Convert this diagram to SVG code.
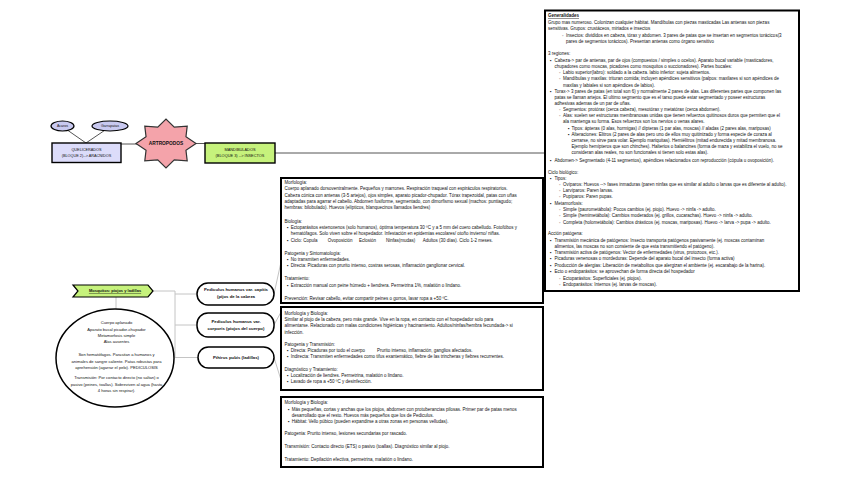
<svg xmlns="http://www.w3.org/2000/svg" width="848" height="477" viewBox="0 0 848 477">
<style>
.t{font-family:"Liberation Sans",Arial,sans-serif;font-size:4.5px;fill:#111}
.c{text-anchor:middle}
.b{font-weight:bold}
.u{text-decoration:underline}
.e{font-size:4.1px}
.n{font-size:4.3px;font-weight:bold}
.box{fill:#fff;stroke:#000;stroke-width:2}
.pill{fill:#fff;stroke:#000;stroke-width:1.5}
.gl{stroke:#c4c4c4;stroke-width:1;fill:none}
.dl{stroke:#555;stroke-width:1;fill:none}
</style>
<rect width="848" height="477" fill="#fff"/>
<g id="connectors">
<line class="dl" x1="68" y1="130.5" x2="86" y2="143"/>
<line class="dl" x1="104" y1="130.8" x2="86" y2="143"/>
<line class="dl" x1="121" y1="144" x2="137" y2="144"/>
<line class="dl" x1="196" y1="143.5" x2="205" y2="143.5"/>
<line class="dl" x1="275" y1="153" x2="545" y2="153"/>
<path class="gl" d="M153,291 H175 V294 H197 M175,294 V325 H197 M175,325 V357.5 H198"/>
<line class="gl" x1="116" y1="297" x2="116" y2="309"/>
<path class="gl" d="M274,294 L281,262"/>
<path class="gl" d="M274,325 L281,312"/>
<path class="gl" d="M274,357.5 L281,380"/>
</g>
<g id="acaros">
<ellipse cx="62.5" cy="126" rx="11.5" ry="5" fill="#c9c9f0" stroke="#000" stroke-width="1.2"/>
<text class="t c" x="62.5" y="127.3" style="font-size:3.6px">Acaros</text>
</g>
<g id="garrapatas">
<ellipse cx="110" cy="126" rx="18" ry="5" fill="#c9c9f0" stroke="#000" stroke-width="1.2"/>
<text class="t c" x="110" y="127.3" style="font-size:3.6px">Garrapatas</text>
</g>
<g id="quelicerados">
<rect x="52" y="143" width="69" height="19.5" fill="#dcdcfa" stroke="#000" stroke-width="1.4"/>
<text class="t c" x="86.5" y="151.3" style="font-size:3.8px">QUELICERADOS</text>
<text class="t c" x="86.5" y="157" style="font-size:3.8px">(BLOQUE 2)--&gt; ARACNIDOS</text>
</g>
<g id="artropodos">
<polygon points="196,143.5 185.96,150.25 187.21,160.82 174.27,159.8 166,168 157.73,159.8 144.79,160.82 146.04,150.25 136,143.5 146.04,136.75 144.79,126.18 157.73,127.2 166,119 174.27,127.2 187.21,126.18 185.96,136.75" fill="#f4a3aa" stroke="#333" stroke-width="1.2"/>
<text class="t c b" x="166" y="145.2" style="font-size:4.8px">ARTROPODOS</text>
</g>
<g id="mandibulados">
<rect x="205" y="143" width="70" height="20" fill="#c6f27c" stroke="#000" stroke-width="1.4"/>
<text class="t c" x="240" y="151.3" style="font-size:3.9px">MANDIBULADOS</text>
<text class="t c" x="240" y="157.2" style="font-size:3.9px">(BLOQUE 3) --&gt; INSECTOS</text>
</g>
<g id="insectos">
<rect class="box" x="545" y="10.5" width="254" height="280.5"/>
<text class="t b u" x="548" y="17">Generalidades</text>
<text class="t" x="548" y="23.8">Grupo mas numeroso. Colonizan cualquier hábitat. Mandíbulas con piezas masticadas Las antenas son piezas</text>
<text class="t" x="548" y="30">sensitivas. Grupos: crustáceos, miriados e insectos</text>
<text class="t" x="562" y="36.6">◦</text><text class="t" x="566" y="36.6">Insectos: divididos en cabeza, tórax y abdomen. 3 pares de patas que se insertan en segmentos torácicos(3</text>
<text class="t" x="566" y="42.8">pares de segmentos torácicos). Presentan antenas como órgano sensitivo</text>
<text class="t" x="548" y="55.4">3 regiones:</text>
<text class="t" x="550" y="61.7">▪</text><text class="t" x="554.5" y="61.7">Cabeza-&gt; par de antenas, par de ojos (compuestos / simples o ocelos). Aparato bucal variable (masticadores,</text>
<text class="t" x="554.5" y="67.9">chupadores como moscas, picadores como mosquitos o succionadores). Partes bucales:</text>
<text class="t" x="559" y="74.1">◦</text><text class="t" x="563" y="74.1">Labio superior(labro): soldado a la cabeza. labio inferior: sujeta alimentos.</text>
<text class="t" x="559" y="80.3">◦</text><text class="t" x="563" y="80.3">Mandíbulas y maxilas: trituran comida; incluyen apéndices sensitivos (palpos: maxilares si son apéndices de</text>
<text class="t" x="563" y="86.5">maxilas y labiales si son apéndices de labios).</text>
<text class="t" x="550" y="92.5">▪</text><text class="t" x="554.5" y="92.5">Torax-&gt; 3 pares de patas (en total son 6) y normalmente 2 pares de alas. Las diferentes partes que componen las</text>
<text class="t" x="554.5" y="98.7">patas se llaman artejos. El ultimo segmento que es el tarso puede estar segmentado y poseer estructuras</text>
<text class="t" x="554.5" y="104.8">adhesivas ademas de un par de uñas.</text>
<text class="t" x="559" y="111">◦</text><text class="t" x="563" y="111">Segmentos: protórax (cerca cabeza), mesotórax y metatórax (cerca abdomen).</text>
<text class="t" x="559" y="117.2">◦</text><text class="t" x="563" y="117.2">Alas: suelen ser estructuras membranosas unidas que tienen refuerzos quitinosos duros que permiten que el</text>
<text class="t" x="563" y="123.4">ala mantenga su forma. Esos refuerzos son los nervios o venas alares.</text>
<text class="t" x="568" y="129.6">▪</text><text class="t" x="571.5" y="129.6">Tipos: ápteras (0 alas, hormigas) // dípteras (1 par alas, moscas) // aladas (2 pares alas, mariposas)</text>
<text class="t" x="568" y="135.8">▪</text><text class="t" x="571.5" y="135.8">Alteraciones: Elitros (2 pares de alas pero uno de ellos muy quitinizado y forma especie de coraza al</text>
<text class="t" x="571.5" y="142">cerrarse, no sirve para volar. Ejemplo mariquitas). Hemiélitros (mitad endurecida y mitad membranosa.</text>
<text class="t" x="571.5" y="148.2">Ejemplo hemípteros que son chinches). Halterios o balancines (forma de maza y estabiliza el vuelo, no se</text>
<text class="t" x="571.5" y="154.4">consideran alas reales, no son funcionales si tienen solo estas alas).</text>
<text class="t" x="550" y="162">▪</text><text class="t" x="554.5" y="162">Abdomen-&gt; Segmentado (4-11 segmentos), apéndices relacionados con reproducción (cópula u ovoposición).</text>
<text class="t" x="548" y="173.5">Ciclo biológico:</text>
<text class="t" x="550" y="179.6">▪</text><text class="t" x="554.5" y="179.6">Tipos:</text>
<text class="t" x="559" y="185.8">◦</text><text class="t" x="563" y="185.8">Ovíparos: Huevos --&gt; fases inmaduras (paren ninfas que es similar al adulto o larvas que es diferente al adulto).</text>
<text class="t" x="559" y="192">◦</text><text class="t" x="563" y="192">Larvíparos: Paren larvas.</text>
<text class="t" x="559" y="198.4">◦</text><text class="t" x="563" y="198.4">Pupíparos: Paren pupas.</text>
<text class="t" x="550" y="204.5">▪</text><text class="t" x="554.5" y="204.5">Metamorfosis:</text>
<text class="t" x="559" y="210.8">◦</text><text class="t" x="563" y="210.8">Simple (paurometábola): Pocos cambios (ej. piojo). Huevo -&gt; ninfa -&gt; adulto.</text>
<text class="t" x="559" y="217.2">◦</text><text class="t" x="563" y="217.2">Simple (hemimetábola): Cambios moderados (ej. grillos, cucarachas). Huevo -&gt; ninfa -&gt; adulto.</text>
<text class="t" x="559" y="223.6">◦</text><text class="t" x="563" y="223.6">Completa (holometábola): Cambios drásticos (ej. moscas, mariposas). Huevo -&gt; larva -&gt; pupa -&gt; adulto.</text>
<text class="t" x="548" y="235">Acción patógena:</text>
<text class="t" x="550" y="241.5">▪</text><text class="t" x="554.5" y="241.5">Transmisión mecánica de patógenos: Insecto transporta patógenos pasivamente (ej. moscas contaminan</text>
<text class="t" x="554.5" y="247.7">alimentos, las moscas no son consiente de que esta transmitiendo el patógeno).</text>
<text class="t" x="550" y="254">▪</text><text class="t" x="554.5" y="254">Transmisión activa de patógenos: Vector de enfermedades (virus, protozoos, etc.).</text>
<text class="t" x="550" y="260.4">▪</text><text class="t" x="554.5" y="260.4">Picaduras venenosas o mordeduras: Depende del aparato bucal del insecto (forma activa)</text>
<text class="t" x="550" y="266.9">▪</text><text class="t" x="554.5" y="266.9">Producción de alergias: Liberación de metabolitos que alergizan el ambiente (ej. escarabajo de la harina).</text>
<text class="t" x="550" y="273.3">▪</text><text class="t" x="554.5" y="273.3">Ecto o endoparásitos: se aprovechan de forma directa del hospedador</text>
<text class="t" x="559" y="279.6">◦</text><text class="t" x="563" y="279.6">Ectoparásitos: Superficiales (ej. piojos).</text>
<text class="t" x="559" y="285.9">◦</text><text class="t" x="563" y="285.9">Endoparásitos: Internos (ej. larvas de moscas).</text>
</g>
<g id="capitis-info">
<rect class="box" x="281" y="178" width="262" height="125"/>
<text class="t" x="284.5" y="184.2">Morfología:</text>
<text class="t" x="284.5" y="190.4">Cuerpo aplanado dorsoventralmente. Pequeños y marrones. Respiración traqueal con espiráculos respiratorios.</text>
<text class="t" x="284.5" y="196.6">Cabeza cónica con antenas (3-5 artejos), ojos simples, aparato picador-chupador. Tórax trapezoidal, patas con uñas</text>
<text class="t" x="284.5" y="202.8">adaptadas para agarrar el cabello. Abdomen fusiforme, segmentado, con dimorfismo sexual (machos: puntiagudo;</text>
<text class="t" x="284.5" y="209">hembras: bilobulado). Huevos (elípticos, blanquecinos llamados liendres)</text>
<text class="t" x="284.5" y="222.6">Biología:</text>
<text class="t" x="287" y="228.9">▪</text><text class="t" x="290.7" y="228.9">Ectoparásitos estenoxenos (solo humanos), óptima temperatura 30 ºC y a 5 mm del cuero cabelludo. Fotofóbos y</text>
<text class="t" x="290.7" y="235.2">hematófagos. Solo viven sobre el hospedador. Infestación en epidemias escolares/ otoño invierno/ niñas.</text>
<text class="t" x="287" y="241.6">▪</text><text class="t" y="241.6"><tspan x="290.7">Ciclo: Copula</tspan><tspan x="327.7">Ovoposición</tspan><tspan x="359">Eclosión</tspan><tspan x="386">Ninfas(mudas)</tspan><tspan x="422.7">Adultos (30 días). Ciclo 1-2 meses.</tspan></text>
<text class="t" x="284.5" y="254.6">Patogenia y Sintomatología:</text>
<text class="t" x="287" y="260.9">▪</text><text class="t" x="290.7" y="260.9">No transmiten enfermedades.</text>
<text class="t" x="287" y="267.2">▪</text><text class="t" x="290.7" y="267.2">Directa: Picaduras con prurito intenso, costras serosas, inflamación ganglionar cervical.</text>
<text class="t" x="284.5" y="280.2">Tratamiento:</text>
<text class="t" x="287" y="286.6">▪</text><text class="t" x="290.7" y="286.6">Extracción manual con peine húmedo + liendrera. Permetrina 1%, malatión o lindano.</text>
<text class="t" x="284.5" y="299.6">Prevención: Revisar cabello, evitar compartir peines o gorros, lavar ropa a +50 ºC.</text>
</g>
<g id="corporis-info">
<rect class="box" x="281" y="307" width="262" height="83"/>
<text class="t" x="284.5" y="314.9">Morfología y Biología:</text>
<text class="t" x="284.5" y="321.1">Similar al piojo de la cabeza, pero más grande. Vive en la ropa, en contacto con el hospedador solo para</text>
<text class="t" x="284.5" y="327.3">alimentarse. Relacionado con malas condiciones higiénicas y hacinamiento. Adultos/ninfas/hembra fecundada-&gt; si</text>
<text class="t" x="284.5" y="333.5">infección.</text>
<text class="t" x="284.5" y="345.9">Patogenia y Transmisión:</text>
<text class="t" x="287" y="352.1">▪</text><text class="t" y="352.1"><tspan x="290.7">Directa: Picaduras por todo el cuerpo</tspan><tspan x="377">Prurito intenso, inflamación, ganglios afectados.</tspan></text>
<text class="t" x="287" y="358.3">▪</text><text class="t" x="290.7" y="358.3">Indirecta: Transmiten enfermedades como tifus exantemático, fiebre de las trincheras y fiebres recurrentes.</text>
<text class="t" x="284.5" y="370.7">Diagnóstico y Tratamiento:</text>
<text class="t" x="287" y="376.9">▪</text><text class="t" x="290.7" y="376.9">Localización de liendres. Permetrina, malatión o lindano.</text>
<text class="t" x="287" y="383.1">▪</text><text class="t" x="290.7" y="383.1">Lavado de ropa a +50 ºC y desinfección.</text>
</g>
<g id="pubis-info">
<rect class="box" x="281" y="397" width="262" height="70"/>
<text class="t" x="284.5" y="404.3">Morfología y Biología:</text>
<text class="t" x="288" y="410.5">▪</text><text class="t" x="291.7" y="410.5">Más pequeñas, cortas y anchas que los piojos, abdomen con protuberancias pilosas. Primer par de patas menos</text>
<text class="t" x="291.7" y="416.7">desarrollado que el resto. Huevos más pequeños que los de Pediculus.</text>
<text class="t" x="288" y="422.9">▪</text><text class="t" x="291.7" y="422.9">Hábitat: Vello púbico (pueden expandirse a otras zonas en personas velludas).</text>
<text class="t" x="284.5" y="435">Patogenia: Prurito intenso, lesiones secundarias por rascado.</text>
<text class="t" x="284.5" y="448.2">Transmisión: Contacto directo (ETS) o pasivo (toallas). Diagnóstico similar al piojo.</text>
<text class="t" x="284.5" y="461.3">Tratamiento: Depilación efectiva, permetrina, malatión o lindano.</text>
</g>
<g id="mosquitos">
<polygon points="73,285 148,285 153,291 148,297 73,297 78,291" fill="#c6f27c" stroke="#000" stroke-width="1.2"/>
<text class="t c b u" x="115" y="292.4" style="font-size:4px">Mosquitos: piojos y ladillas</text>
</g>
<g id="mosquitos-info">
<ellipse cx="115" cy="358" rx="59" ry="49" fill="#fff" stroke="#000" stroke-width="1.5"/>
<text class="t c e" x="116.5" y="324.4">Cuerpo aplanado</text>
<text class="t c e" x="116.5" y="330.8">Aparato bucal picador-chupador</text>
<text class="t c e" x="116.5" y="337.2">Metamorfosis simple</text>
<text class="t c e" x="116.5" y="343.4">Alas ausentes</text>
<text class="t c e" x="116.5" y="356.4">Son hematófagos. Parasitan a humanos y</text>
<text class="t c e" x="116.5" y="362.5">animales de sangre caliente. Patas robustas para</text>
<text class="t c e" x="116.5" y="368.6">aprehensión (agarrar el pelo). PEDICULOSIS</text>
<text class="t c e" x="116.5" y="379.4">Transmisión: Por contacto directo (no saltan) o</text>
<text class="t c e" x="116.5" y="385.5">pasivo (peines, toallas). Sobreviven al agua (hasta</text>
<text class="t c e" x="116.5" y="391.8">4 horas sin respirar).</text>
</g>
<g id="capitis">
<rect class="pill" x="197" y="283" width="77" height="22" rx="11"/>
<text class="t c n" x="236" y="291.4">Pediculus humanus var. capitis</text>
<text class="t c n" x="236" y="298.2">(pijos de la cabeza</text>
</g>
<g id="corporis">
<rect class="pill" x="197" y="313" width="77" height="24" rx="11"/>
<text class="t c n" x="236" y="323.1">Pediculus humanus var.</text>
<text class="t c n" x="236" y="330.4">corporis (piojos del cuerpo)</text>
</g>
<g id="pubis">
<rect class="pill" x="198" y="347" width="76" height="21" rx="10.5"/>
<text class="t c n" x="236" y="359">Pthirus pubis (ladillas)</text>
</g>
</svg>
